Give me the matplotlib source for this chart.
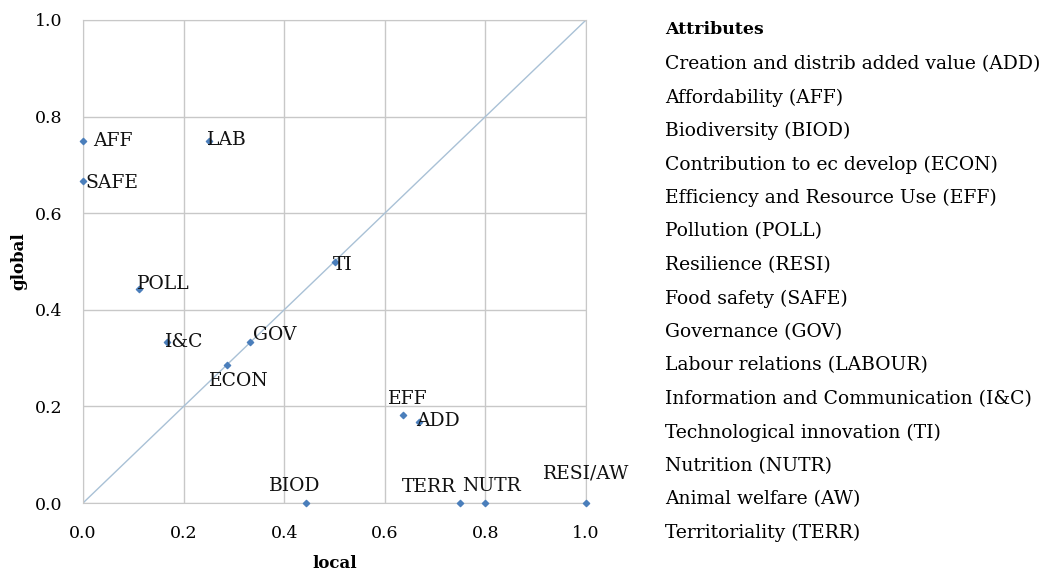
import matplotlib
matplotlib.use("Agg")
import matplotlib.pyplot as plt

labels = ["AFF", "LAB", "SAFE", "POLL", "TI", "I&C", "GOV", "ECON", "EFF", "ADD",
          "BIOD", "TERR", "NUTR", "RESI/AW"]
local_vals = [0.0, 0.25, 0.0, 0.111, 0.5, 0.167, 0.333, 0.286, 0.636, 0.667,
              0.444, 0.75, 0.80, 1.0]
global_vals = [0.75, 0.75, 0.667, 0.444, 0.5, 0.333, 0.333, 0.286, 0.182, 0.167,
               0.0, 0.0, 0.0, 0.0]
# label offsets in pixels (dx, dy) and horizontal alignment
offsets = {"AFF": (10, 0, "left"), "LAB": (-2, 1, "left"), "SAFE": (2, -2, "left"),
           "POLL": (-2, 5, "left"), "TI": (-2, -3, "left"), "I&C": (-2, 0, "left"),
           "GOV": (3, 7, "left"), "ECON": (-18, -16, "left"), "EFF": (-15, 16, "left"),
           "ADD": (-2, 1, "left"), "BIOD": (-12, 17, "center"), "TERR": (-4, 16, "right"),
           "NUTR": (6, 17, "center"), "RESI/AW": (0, 30, "center")}

legend_title = "Attributes"
legend_items = ["Creation and distrib added value (ADD)", "Affordability (AFF)",
                "Biodiversity (BIOD)", "Contribution to ec develop (ECON)",
                "Efficiency and Resource Use (EFF)", "Pollution (POLL)",
                "Resilience (RESI)", "Food safety (SAFE)", "Governance (GOV)",
                "Labour relations (LABOUR)", "Information and Communication (I&C)",
                "Technological innovation (TI)", "Nutrition (NUTR)",
                "Animal welfare (AW)", "Territoriality (TERR)"]
ticks = [0.0, 0.2, 0.4, 0.6, 0.8, 1.0]

plt.rcParams['font.family'] = ['DejaVu Serif']
fig = plt.figure(figsize=(10.47, 5.75), dpi=100)
ax = fig.add_axes([83/1047, 1-503/575, 503/1047, 483/575])
ax.set_xlim(0, 1)
ax.set_ylim(0, 1)
ax.set_xticks(ticks)
ax.set_yticks(ticks)
ax.set_xticklabels([f"{t:.1f}" for t in ticks])
ax.set_yticklabels([f"{t:.1f}" for t in ticks])
ax.tick_params(length=0, labelsize=12.5)
ax.tick_params(axis="x", pad=16)
ax.tick_params(axis="y", pad=15)
ax.grid(True, color="#c8c8c8", linewidth=1)
ax.set_axisbelow(True)
for s in ax.spines.values():
    s.set_color("#c8c8c8")
ax.plot([0, 1], [0, 1], color="#a9c1d6", linewidth=1, zorder=1)
ax.scatter(local_vals, global_vals, marker="D", s=10, color="#4a7ebb", zorder=3, clip_on=False)
for lab, x, y in zip(labels, local_vals, global_vals):
    dx, dy, ha = offsets[lab]
    ax.annotate(lab, (x, y), xytext=(dx, dy), textcoords="offset pixels",
                ha=ha, va="center", fontsize=13.5, color="#111111", annotation_clip=False)
ax.set_xlabel("local", fontsize=12, fontweight="bold", labelpad=9)
ax.set_ylabel("global", fontsize=12, fontweight="bold", labelpad=5)

fig.text(665/1047, 1-30/575, legend_title, fontsize=12.5, fontweight="bold", va="center", ha="left")
for i, item in enumerate(legend_items):
    y = 64 + i * 33.5
    fig.text(665/1047, 1-y/575, item, fontsize=13.5, va="center", ha="left")

fig.savefig("out.png", dpi=100)
